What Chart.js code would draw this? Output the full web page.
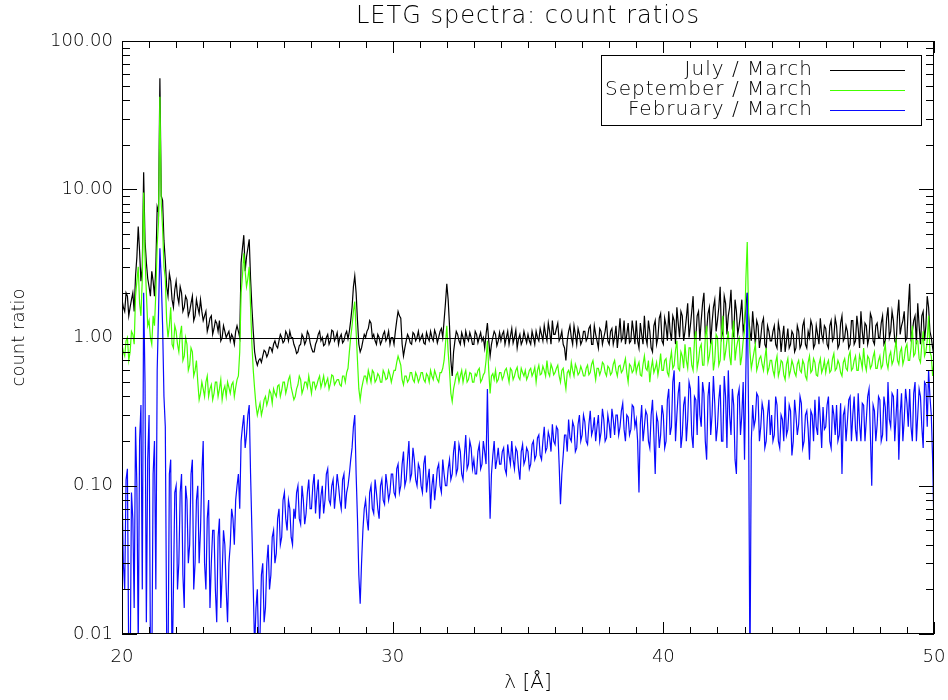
<!DOCTYPE html>
<html>
<head>
<meta charset="utf-8">
<title>LETG spectra: count ratios</title>
<script src="https://cdn.jsdelivr.net/npm/chart.js@4/dist/chart.umd.min.js"></script>
<style>
	html, body { margin: 0; padding: 0; background: #fff; }
	#wrap { width: 948px; height: 700px; }
</style>
</head>
<body>
<div id="wrap"><canvas id="ratios"></canvas></div>
<script>
// Wavelength grid (Angstrom): main samples every 0.1 A from 20 to 50,
// half-step samples sit 0.05 A after each main one
const waveStart = 20;
const waveStep = 0.1;

const xTickValues = [20, 30, 40, 50];
const yTickValues = [0.01, 0.1, 1, 10, 100];

const seriesLabels = ['July / March', 'September / March', 'February / March'];
const seriesColors = ['#000000', '#44ff00', '#0a0aff'];

// July / March, at 20.0, 20.1, ... 50.0
const julyRatio = [
	1.8, 1.5, 1.9, 1.6, 2.0, 2.6, 5.6, 2.4, 13.0, 3.2,
	2.2, 2.8, 1.9, 7.6, 56, 8.4, 3.3, 1.9, 2.4, 1.6,
	2.4, 1.7, 2.0, 1.6, 1.8, 1.5, 1.9, 1.4, 1.6, 1.8,
	1.3, 1.5, 1.2, 1.4, 1.15, 1.25, 1.3, 1.0, 1.1, 1.05,
	0.95, 1.0, 1.1, 1.1, 3.2, 4.9, 3.5, 4.6, 1.6, 0.8,
	0.65, 0.72, 0.75, 0.8, 0.78, 0.85, 0.9, 0.88, 0.95, 1.0,
	0.95, 1.05, 1.1, 1.0, 0.85, 0.8, 0.9, 1.0, 0.95, 1.05,
	0.85, 0.8, 0.95, 1.1, 1.0, 0.9, 1.05, 0.95, 1.1, 1.0,
	0.9, 1.05, 0.95, 1.1, 1.1, 1.6, 2.6, 1.3, 0.8, 0.95,
	1.0, 1.15, 1.25, 1.05, 0.9, 1.0, 0.95, 1.1, 1.0, 0.9,
	1.0, 1.1, 1.5, 1.35, 0.75, 0.95, 1.0, 0.9, 1.05, 1.0,
	0.95, 1.05, 0.9, 1.0, 1.1, 0.95, 1.05, 1.0, 1.15, 1.3,
	2.3, 1.2, 0.55, 0.95, 1.05, 0.9, 1.0, 1.1, 0.95, 1.0,
	0.9, 1.05, 1.0, 0.95, 0.85, 1.25, 0.75, 1.0, 1.05, 0.95,
	0.95, 1.1, 1.0, 0.9, 1.15, 1.0, 0.85, 1.05, 0.95, 1.0,
	1.05, 0.9, 1.0, 1.1, 0.95, 1.05, 1.2, 0.95, 1.1, 1.3,
	1.05, 1.25, 1.0, 0.9, 0.7, 1.1, 1.0, 1.2, 0.9, 1.05,
	0.95, 1.1, 1.0, 1.2, 0.9, 1.05, 0.85, 1.1, 1.0, 1.3,
	0.9, 1.15, 1.0, 0.85, 1.35, 1.0, 0.9, 1.25, 0.95, 1.1,
	1.3, 0.85, 1.05, 1.4, 0.9, 1.1, 0.8, 1.3, 1.0, 1.45,
	0.9, 1.2, 1.5, 0.95, 1.3, 1.6, 1.0, 1.4, 1.1, 1.7,
	1.2, 1.9, 1.0, 1.5, 1.3, 2.0, 1.1, 1.6, 1.25, 1.8,
	1.3, 2.2, 1.1, 1.7, 1.4, 2.1, 1.0, 1.5, 1.2, 1.8,
	1.25, 2.0, 1.1, 1.5, 0.9, 1.2, 1.0, 1.35, 0.85, 1.1,
	0.95, 1.2, 0.85, 1.1, 1.0, 0.8, 1.15, 0.9, 1.05, 0.85,
	1.1, 0.9, 1.3, 0.85, 1.0, 1.2, 0.9, 1.05, 1.35, 0.95,
	1.15, 0.85, 1.3, 1.0, 1.2, 0.9, 1.4, 1.0, 1.1, 0.9,
	1.3, 0.95, 1.15, 1.5, 0.9, 1.2, 1.0, 1.35, 0.9, 1.25,
	1.0, 1.4, 0.95, 1.6, 1.1, 1.3, 0.9, 1.8, 1.2, 1.5,
	1.0, 2.3, 1.1, 1.4, 1.7, 0.9, 1.5, 1.2, 1.6, 1.0,
	0.75
];
// July / March, at 20.05, 20.15, ... 49.95
const julyRatioHalf = [
	1.6, 2.0, 1.4, 1.8, 1.5, 3.5, 3.8, 3.0, 4.5, 2.5,
	1.9, 2.4, 3.0, 7.0, 9.0, 4.5, 2.2, 2.7, 1.8, 2.1,
	1.9, 2.2, 1.5, 1.9, 1.4, 1.7, 1.3, 1.8, 1.45, 1.5,
	1.4, 1.1, 1.35, 1.05, 1.3, 1.1, 0.95, 1.2, 1.0, 1.1,
	1.05, 0.9, 1.2, 1.0, 4.0, 2.8, 4.0, 2.5, 1.1, 0.7,
	0.7, 0.68, 0.82, 0.74, 0.86, 0.8, 0.95, 0.85, 1.05, 0.92,
	1.1, 0.95, 1.0, 0.9, 0.78, 0.88, 1.05, 0.9, 1.1, 0.92,
	0.8, 0.9, 1.05, 0.95, 0.88, 1.0, 0.9, 1.12, 0.95, 1.08,
	1.0, 0.92, 1.05, 0.98, 1.3, 2.2, 2.0, 0.9, 0.85, 1.05,
	1.1, 1.3, 1.0, 0.95, 1.05, 0.9, 1.05, 0.95, 1.1, 1.0,
	0.9, 1.3, 1.4, 0.9, 0.85, 1.05, 0.92, 1.08, 0.95, 1.1,
	1.0, 0.92, 1.08, 0.95, 1.0, 1.12, 0.92, 1.1, 1.0, 1.7,
	1.8, 0.7, 0.8, 1.1, 0.95, 1.08, 0.9, 1.0, 1.08, 0.9,
	1.1, 0.92, 1.08, 1.0, 1.05, 0.95, 0.9, 1.1, 0.88, 1.08,
	1.05, 0.9, 1.1, 1.02, 0.92, 1.12, 0.98, 0.9, 1.1, 0.92,
	0.95, 1.1, 0.9, 1.0, 1.15, 0.95, 1.05, 1.25, 0.9, 1.05,
	1.15, 0.95, 1.1, 0.85, 0.95, 1.2, 0.9, 1.05, 1.15, 0.9,
	1.1, 0.95, 1.15, 0.9, 1.2, 0.95, 1.15, 0.9, 1.1, 0.95,
	1.1, 0.9, 1.2, 1.05, 0.95, 1.3, 1.05, 0.92, 1.3, 0.9,
	0.95, 1.25, 0.9, 1.0, 1.3, 0.85, 1.2, 0.9, 1.35, 0.95,
	1.35, 0.95, 1.1, 1.4, 0.9, 1.25, 1.5, 0.95, 1.35, 1.0,
	1.5, 1.0, 1.4, 0.95, 1.7, 1.05, 1.45, 0.9, 1.6, 1.1,
	1.6, 1.0, 1.9, 1.05, 1.6, 1.15, 1.8, 1.05, 1.45, 1.1,
	1.6, 1.4, 0.95, 1.15, 1.3, 0.85, 1.25, 0.9, 1.2, 0.95,
	1.1, 0.9, 1.25, 0.8, 1.2, 0.95, 0.85, 1.1, 0.8, 1.2,
	0.85, 1.2, 0.9, 1.1, 1.3, 0.85, 1.2, 0.9, 1.05, 1.2,
	0.9, 1.2, 0.95, 1.35, 0.85, 1.25, 0.95, 1.2, 0.85, 1.3,
	0.9, 1.4, 0.85, 1.1, 1.25, 0.9, 1.45, 0.95, 1.2, 1.0,
	1.25, 0.9, 1.35, 1.0, 1.5, 0.95, 1.4, 1.05, 1.3, 0.95,
	1.6, 1.0, 1.3, 0.9, 1.2, 1.4, 0.95, 1.9, 1.1, 0.85
];

// September / March
const septRatio = [
	0.9, 0.75, 1.0, 0.8, 1.05, 1.9, 3.0, 1.4, 9.5, 2.0,
	1.3, 0.9, 1.2, 4.2, 42, 5.5, 2.5, 1.0, 1.6, 0.85,
	1.1, 0.8, 1.2, 0.75, 0.9, 0.65, 0.8, 0.6, 0.5, 0.42,
	0.45, 0.5, 0.4, 0.48, 0.42, 0.5, 0.45, 0.38, 0.47, 0.5,
	0.42, 0.5, 0.46, 0.55, 2.0, 3.7, 2.2, 3.0, 0.9, 0.45,
	0.3, 0.36, 0.33, 0.4, 0.38, 0.42, 0.45, 0.4, 0.48, 0.44,
	0.5, 0.46, 0.55, 0.42, 0.4, 0.48, 0.52, 0.45, 0.5, 0.55,
	0.42, 0.5, 0.48, 0.55, 0.5, 0.47, 0.53, 0.49, 0.55, 0.5,
	0.52, 0.47, 0.55, 0.58, 0.8, 1.2, 1.75, 0.7, 0.38, 0.5,
	0.55, 0.6, 0.5, 0.58, 0.52, 0.55, 0.5, 0.57, 0.53, 0.56,
	0.55, 0.6, 0.75, 0.65, 0.48, 0.55, 0.52, 0.58, 0.5, 0.55,
	0.53, 0.58, 0.5, 0.55, 0.6, 0.52, 0.56, 0.5, 0.58, 0.7,
	1.2, 0.6, 0.37, 0.5, 0.58, 0.55, 0.5, 0.6, 0.52, 0.57,
	0.5, 0.55, 0.62, 0.52, 0.58, 0.95, 0.42, 0.57, 0.6, 0.52,
	0.58, 0.55, 0.62, 0.5, 0.6, 0.55, 0.63, 0.52, 0.58, 0.6,
	0.55, 0.62, 0.58, 0.5, 0.65, 0.57, 0.6, 0.7, 0.55, 0.62,
	0.58, 0.65, 0.5, 0.62, 0.45, 0.6, 0.68, 0.55, 0.62, 0.58,
	0.6, 0.55, 0.65, 0.58, 0.7, 0.52, 0.62, 0.6, 0.66, 0.55,
	0.62, 0.58, 0.7, 0.55, 0.65, 0.6, 0.72, 0.5, 0.64, 0.6,
	0.58, 0.68, 0.55, 0.75, 0.6, 0.5, 0.7, 0.62, 0.56, 0.78,
	0.6, 0.72, 0.55, 0.8, 0.65, 0.95, 0.6, 0.75, 0.9, 0.62,
	0.85, 0.6, 1.1, 0.7, 0.9, 0.65, 1.2, 0.75, 0.95, 0.7,
	1.0, 0.7, 1.4, 0.8, 1.1, 0.65, 1.3, 0.85, 1.0, 0.75,
	1.1, 4.4, 0.8, 0.7, 0.9, 0.65, 0.75, 0.6, 0.85, 0.62,
	0.7, 0.55, 0.75, 0.6, 0.68, 0.52, 0.72, 0.6, 0.65, 0.55,
	0.7, 0.58, 0.66, 0.52, 0.75, 0.6, 0.68, 0.55, 0.72, 0.62,
	0.58, 0.7, 0.6, 0.78, 0.62, 0.66, 0.55, 0.72, 0.6, 0.8,
	0.62, 0.75, 0.6, 0.7, 0.85, 0.6, 0.72, 0.65, 0.8, 0.62,
	0.75, 0.65, 0.9, 0.62, 0.8, 0.7, 0.95, 0.66, 0.85, 0.72,
	0.9, 0.7, 1.2, 0.78, 0.95, 0.68, 1.1, 0.8, 1.4, 0.75,
	0.7
];
const septRatioHalf = [
	0.8, 0.95, 0.7, 1.1, 0.9, 2.4, 1.7, 2.5, 3.5, 1.2,
	1.0, 1.4, 2.0, 6.0, 8.0, 3.0, 1.3, 1.2, 0.9, 1.2,
	0.9, 1.05, 0.7, 1.0, 0.6, 0.85, 0.55, 0.7, 0.38, 0.5,
	0.4, 0.55, 0.45, 0.38, 0.5, 0.4, 0.52, 0.44, 0.4, 0.46,
	0.48, 0.4, 0.52, 0.8, 2.6, 2.8, 2.5, 1.6, 0.6, 0.35,
	0.33, 0.3, 0.38, 0.35, 0.44, 0.36, 0.42, 0.47, 0.4, 0.5,
	0.42, 0.52, 0.46, 0.38, 0.45, 0.55, 0.42, 0.5, 0.46, 0.48,
	0.5, 0.45, 0.52, 0.46, 0.55, 0.5, 0.45, 0.56, 0.48, 0.52,
	0.48, 0.55, 0.5, 0.62, 1.0, 1.5, 1.1, 0.45, 0.45, 0.55,
	0.5, 0.55, 0.6, 0.5, 0.57, 0.5, 0.6, 0.52, 0.6, 0.5,
	0.6, 0.68, 0.7, 0.52, 0.55, 0.5, 0.58, 0.52, 0.58, 0.5,
	0.58, 0.52, 0.57, 0.5, 0.55, 0.6, 0.52, 0.58, 0.62, 0.9,
	0.8, 0.42, 0.45, 0.56, 0.5, 0.6, 0.56, 0.5, 0.58, 0.5,
	0.57, 0.6, 0.5, 0.56, 0.7, 0.6, 0.55, 0.52, 0.5, 0.58,
	0.52, 0.6, 0.56, 0.62, 0.52, 0.6, 0.54, 0.62, 0.55, 0.52,
	0.6, 0.55, 0.63, 0.6, 0.56, 0.64, 0.55, 0.58, 0.66, 0.56,
	0.62, 0.55, 0.6, 0.52, 0.58, 0.55, 0.6, 0.66, 0.56, 0.64,
	0.55, 0.62, 0.56, 0.66, 0.6, 0.62, 0.56, 0.68, 0.58, 0.64,
	0.56, 0.66, 0.6, 0.64, 0.58, 0.66, 0.58, 0.66, 0.58, 0.7,
	0.64, 0.56, 0.66, 0.62, 0.7, 0.62, 0.58, 0.68, 0.64, 0.6,
	0.7, 0.58, 0.7, 0.62, 0.82, 0.62, 0.8, 0.62, 0.7, 0.85,
	0.65, 0.95, 0.62, 0.85, 0.65, 1.0, 0.68, 0.9, 0.6, 1.05,
	0.65, 1.1, 0.7, 0.95, 0.75, 1.05, 0.7, 0.95, 0.65, 0.95,
	2.5, 1.4, 0.62, 0.8, 0.6, 0.72, 0.66, 0.72, 0.58, 0.7,
	0.6, 0.68, 0.55, 0.7, 0.56, 0.66, 0.55, 0.7, 0.58, 0.66,
	0.6, 0.7, 0.55, 0.68, 0.58, 0.72, 0.56, 0.66, 0.58, 0.7,
	0.66, 0.58, 0.72, 0.6, 0.7, 0.58, 0.68, 0.62, 0.75, 0.6,
	0.7, 0.6, 0.76, 0.62, 0.66, 0.75, 0.62, 0.74, 0.62, 0.7,
	0.62, 0.8, 0.68, 0.75, 0.66, 0.82, 0.7, 0.8, 0.66, 0.85,
	0.7, 0.85, 0.75, 0.95, 0.72, 0.9, 0.75, 0.95, 0.8, 0.55
];

// February / March
const febRatio = [
	0.1, 0.02, 0.13, 0.005, 0.06, 0.25, 0.008, 0.35, 2.0, 0.012,
	0.3, 0.005, 0.2, 0.6, 4.0, 1.2, 0.25, 0.006, 0.15, 0.02,
	0.1, 0.03, 0.12, 0.015, 0.08, 0.04, 0.15, 0.03, 0.1, 0.05,
	0.2, 0.02, 0.08, 0.03, 0.05, 0.012, 0.06, 0.025, 0.04, 0.012,
	0.04, 0.06, 0.08, 0.12, 0.2, 0.3, 0.22, 0.35, 0.05, 0.008,
	0.02, 0.01, 0.03, 0.015, 0.04, 0.025, 0.05, 0.035, 0.07, 0.045,
	0.09, 0.05, 0.07, 0.04, 0.06, 0.1, 0.055, 0.08, 0.065, 0.11,
	0.07, 0.12, 0.09, 0.06, 0.1, 0.08, 0.13, 0.075, 0.11, 0.09,
	0.1, 0.07, 0.12, 0.09, 0.12, 0.18, 0.3, 0.06, 0.016, 0.05,
	0.08, 0.05, 0.1, 0.065, 0.09, 0.06, 0.11, 0.075, 0.1, 0.09,
	0.12, 0.085, 0.14, 0.1, 0.17, 0.11, 0.2, 0.12, 0.15, 0.1,
	0.13, 0.09, 0.16, 0.11, 0.07, 0.12, 0.1, 0.14, 0.09, 0.12,
	0.1, 0.15, 0.12, 0.2, 0.13, 0.17, 0.11, 0.22, 0.14, 0.18,
	0.15, 0.12, 0.19, 0.14, 0.17, 0.45, 0.06, 0.16, 0.13, 0.18,
	0.14, 0.18, 0.12, 0.16, 0.2, 0.13, 0.17, 0.11, 0.19, 0.15,
	0.17, 0.14, 0.2, 0.16, 0.22, 0.15, 0.25, 0.18, 0.21, 0.26,
	0.19, 0.24, 0.075, 0.16, 0.22, 0.28, 0.2, 0.25, 0.18, 0.3,
	0.22, 0.27, 0.19, 0.32, 0.24, 0.2, 0.3, 0.23, 0.28, 0.21,
	0.26, 0.33, 0.22, 0.3, 0.25, 0.36, 0.2, 0.29, 0.24, 0.34,
	0.28, 0.09, 0.35, 0.25, 0.3, 0.18, 0.38, 0.12, 0.27, 0.22,
	0.3, 0.2, 0.45, 0.25, 0.6, 0.3, 0.5, 0.22, 0.4, 0.28,
	0.45, 0.18, 0.38, 0.55, 0.25, 0.42, 0.15, 0.5, 0.3, 0.36,
	0.25, 0.48, 0.2, 0.4, 0.6, 0.22, 0.35, 0.12, 0.45, 0.3,
	0.15, 2.0, 0.005, 0.35, 0.28, 0.4, 0.25, 0.32, 0.2, 0.38,
	0.3, 0.22, 0.35, 0.18, 0.28, 0.4, 0.24, 0.32, 0.2, 0.3,
	0.26, 0.36, 0.2, 0.32, 0.15, 0.3, 0.38, 0.22, 0.28, 0.34,
	0.25, 0.4, 0.18, 0.3, 0.35, 0.22, 0.12, 0.33, 0.27, 0.4,
	0.3, 0.24, 0.42, 0.2, 0.35, 0.28, 0.45, 0.1, 0.32, 0.26,
	0.38, 0.22, 0.34, 0.5, 0.25, 0.4, 0.3, 0.15, 0.42, 0.28,
	0.36, 0.45, 0.2, 0.5, 0.3, 0.4, 0.18, 0.48, 0.6, 0.3,
	0.05
];
const febRatioHalf = [
	0.03, 0.11, 0.006, 0.09, 0.015, 0.1, 0.2, 0.02, 0.5, 0.15,
	0.008, 0.12, 0.02, 1.5, 2.5, 0.4, 0.01, 0.12, 0.005, 0.09,
	0.02, 0.09, 0.025, 0.1, 0.03, 0.12, 0.02, 0.08, 0.03, 0.12,
	0.03, 0.06, 0.015, 0.05, 0.02, 0.045, 0.015, 0.05, 0.02, 0.03,
	0.07, 0.04, 0.1, 0.07, 0.25, 0.18, 0.3, 0.12, 0.02, 0.015,
	0.008, 0.025, 0.012, 0.03, 0.02, 0.045, 0.03, 0.06, 0.04, 0.08,
	0.06, 0.08, 0.045, 0.07, 0.09, 0.06, 0.1, 0.055, 0.09, 0.07,
	0.1, 0.065, 0.11, 0.085, 0.065, 0.12, 0.08, 0.1, 0.07, 0.12,
	0.08, 0.11, 0.07, 0.1, 0.15, 0.25, 0.12, 0.025, 0.03, 0.07,
	0.06, 0.09, 0.07, 0.11, 0.07, 0.1, 0.08, 0.12, 0.08, 0.12,
	0.09, 0.13, 0.09, 0.14, 0.1, 0.15, 0.11, 0.18, 0.11, 0.14,
	0.1, 0.14, 0.09, 0.13, 0.1, 0.08, 0.13, 0.1, 0.15, 0.1,
	0.13, 0.11, 0.17, 0.12, 0.19, 0.12, 0.16, 0.13, 0.2, 0.13,
	0.12, 0.17, 0.13, 0.2, 0.14, 0.15, 0.12, 0.2, 0.15, 0.14,
	0.17, 0.13, 0.19, 0.14, 0.15, 0.18, 0.13, 0.17, 0.14, 0.18,
	0.13, 0.19, 0.15, 0.21, 0.16, 0.2, 0.17, 0.23, 0.17, 0.2,
	0.25, 0.14, 0.12, 0.22, 0.17, 0.21, 0.27, 0.17, 0.26, 0.2,
	0.3, 0.2, 0.26, 0.22, 0.29, 0.25, 0.2, 0.33, 0.2, 0.3,
	0.21, 0.28, 0.3, 0.22, 0.32, 0.24, 0.3, 0.22, 0.35, 0.25,
	0.2, 0.26, 0.2, 0.32, 0.2, 0.3, 0.22, 0.3, 0.18, 0.35,
	0.18, 0.38, 0.22, 0.5, 0.2, 0.42, 0.18, 0.35, 0.2, 0.5,
	0.22, 0.4, 0.22, 0.3, 0.5, 0.2, 0.4, 0.22, 0.55, 0.2,
	0.38, 0.2, 0.55, 0.18, 0.3, 0.45, 0.15, 0.4, 0.22, 0.5,
	0.6, 0.3, 0.2, 0.25, 0.42, 0.2, 0.36, 0.18, 0.3, 0.22,
	0.2, 0.4, 0.2, 0.3, 0.2, 0.22, 0.35, 0.16, 0.38, 0.22,
	0.4, 0.18, 0.3, 0.24, 0.32, 0.2, 0.25, 0.4, 0.18, 0.24,
	0.35, 0.2, 0.35, 0.22, 0.2, 0.36, 0.3, 0.2, 0.38, 0.2,
	0.4, 0.2, 0.26, 0.36, 0.2, 0.4, 0.22, 0.35, 0.2, 0.4,
	0.2, 0.4, 0.2, 0.28, 0.42, 0.2, 0.45, 0.3, 0.2, 0.45,
	0.25, 0.25, 0.42, 0.2, 0.45, 0.25, 0.5, 0.25, 0.4, 0.15
];

const fontFamily = '"DejaVu Sans", "Liberation Sans", sans-serif';
const thinFont = size => ({ family: fontFamily, size: size, weight: 200 });

/* Merge main and half-step ratios into one {x, y} list along wavelength */
function toPoints(main, half) {
	const pts = [];
	main.forEach((v, i) => {
		const x = waveStart + i * waveStep;
		pts.push({ x: +x.toFixed(2), y: v });
		if (i < half.length) pts.push({ x: +(x + waveStep / 2).toFixed(2), y: half[i] });
	});
	return pts;
}

/* Frame, inward ticks, unity line, title and legend box */
const framePlugin = {
	id: 'framePlugin',
	afterDatasetsDraw(chart) {
		const { ctx, chartArea: a, scales: { x, y } } = chart;
		ctx.save();
		ctx.strokeStyle = '#000';
		ctx.lineWidth = 1;

		// ratio = 1 reference line
		const y1 = Math.round(y.getPixelForValue(1)) + 0.5;
		ctx.beginPath();
		ctx.moveTo(a.left, y1);
		ctx.lineTo(a.right, y1);
		ctx.stroke();

		// box
		ctx.strokeRect(a.left + 0.5, a.top + 0.5, a.width - 1, a.height - 1);

		// x ticks every 1 A, long ones every 10 A
		ctx.beginPath();
		for (let v = 20; v <= 50; v++) {
			const px = Math.round(x.getPixelForValue(v)) + 0.5;
			const len = v % 10 === 0 ? 12 : 7;
			ctx.moveTo(px, a.bottom); ctx.lineTo(px, a.bottom - len);
			ctx.moveTo(px, a.top); ctx.lineTo(px, a.top + len);
		}
		// y ticks: decades plus 2..9 minors
		for (let d = -2; d <= 2; d++) {
			for (let k = 1; k <= 9; k++) {
				const v = k * Math.pow(10, d);
				if (v > 100.0001) break;
				const py = Math.round(y.getPixelForValue(v)) + 0.5;
				const len = k === 1 ? 15 : 8;
				ctx.moveTo(a.left, py); ctx.lineTo(a.left + len, py);
				ctx.moveTo(a.right, py); ctx.lineTo(a.right - len, py);
			}
		}
		ctx.stroke();
		ctx.restore();
	},
	afterDraw(chart) {
		const { ctx, chartArea: a } = chart;
		ctx.save();
		ctx.fillStyle = '#000';

		// title
		ctx.font = '200 24px ' + fontFamily;
		ctx.letterSpacing = '1px';
		ctx.textAlign = 'center';
		ctx.textBaseline = 'middle';
		ctx.fillText('LETG spectra: count ratios', (a.left + a.right) / 2, 17);

		// legend
		const box = { left: 601, top: 55, right: 921, bottom: 125 };
		ctx.strokeStyle = '#000';
		ctx.lineWidth = 1;
		ctx.strokeRect(box.left + 0.5, box.top + 0.5, box.right - box.left, box.bottom - box.top);
		ctx.font = '200 20px ' + fontFamily;
		ctx.textAlign = 'right';
		chart.data.datasets.forEach((ds, i) => {
			const ly = 70 + i * 20;
			ctx.fillStyle = '#000';
			ctx.fillText(ds.label, 813, ly);
			ctx.strokeStyle = ds.borderColor;
			ctx.beginPath();
			ctx.moveTo(830, ly + 0.5);
			ctx.lineTo(905, ly + 0.5);
			ctx.stroke();
		});
		ctx.restore();
	}
};

const ratioSeries = [
	[julyRatio, julyRatioHalf],
	[septRatio, septRatioHalf],
	[febRatio, febRatioHalf]
];

new Chart(document.getElementById('ratios'), {
	type: 'line',
	data: {
		datasets: ratioSeries.map(([main, half], i) => ({
			label: seriesLabels[i],
			data: toPoints(main, half),
			borderColor: seriesColors[i],
			borderWidth: 1.2,
			pointRadius: 0,
			tension: 0,
			order: 3 - i
		}))
	},
	options: {
		responsive: true,
		maintainAspectRatio: false,
		animation: false,
		devicePixelRatio: 1,
		layout: { padding: { top: 41, right: 14, left: 0, bottom: 0 } },
		plugins: {
			legend: { display: false },
			title: { display: false },
			tooltip: { enabled: false }
		},
		scales: {
			x: {
				type: 'linear',
				min: 20,
				max: 50,
				grid: { display: false, drawTicks: false },
				border: { display: false },
				afterBuildTicks: scale => { scale.ticks = xTickValues.map(v => ({ value: v })); },
				afterFit: scale => {
					scale.height = 66;
					scale.paddingLeft = 0;
					scale.paddingRight = 0;
				},
				ticks: { color: '#000', font: thinFont(18), padding: 13, maxRotation: 0 },
				title: { display: true, text: 'λ [Å]', color: '#000', font: thinFont(20), padding: { bottom: 5 } }
			},
			y: {
				type: 'logarithmic',
				min: 0.01,
				max: 100,
				grid: { display: false, drawTicks: false },
				border: { display: false },
				afterBuildTicks: scale => { scale.ticks = yTickValues.map(v => ({ value: v })); },
				afterFit: scale => {
					scale.width = 122;
					scale.paddingTop = 0;
					scale.paddingBottom = 0;
				},
				ticks: { color: '#000', font: thinFont(18), padding: 9, callback: v => Number(v).toFixed(2) },
				title: { display: true, text: 'count ratio', color: '#000', font: thinFont(18), padding: { top: 9 } }
			}
		}
	},
	plugins: [framePlugin]
});
</script>
</body>
</html>
